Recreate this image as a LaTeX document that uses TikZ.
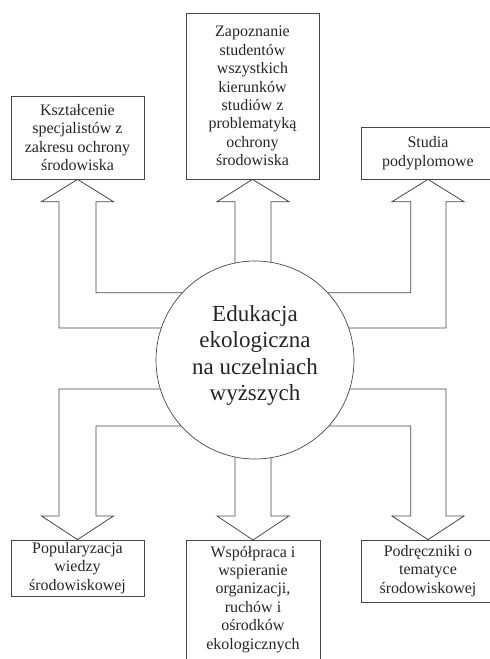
\documentclass[tikz,border=0pt]{standalone}
\usepackage{fontspec}
\setmainfont{Liberation Serif}
\begin{document}
\begin{tikzpicture}[x=1pt,y=-1pt,
  line/.style={draw=black!72, line width=0.8pt},
  box/.style={line, rectangle, fill=white, align=center, inner sep=0pt,
              font=\fontsize{16}{18.4}\selectfont, text=black!85},
  arr/.style={line, line join=miter},
  big/.style={align=center, inner sep=0pt, font=\fontsize{23}{26.5}\selectfont, text=black!85}]
\useasboundingbox (0,0) rectangle (490,659);
% boxes
\node[box, minimum width=133pt, minimum height=83pt] (b1) at (77.5,137.5)
  {Kształcenie\\specjalistów z\\zakresu ochrony\\środowiska};
\node[box, minimum width=133pt, minimum height=166pt] (b2) at (252.5,96)
  {Zapoznanie\\studentów\\wszystkich\\kierunków\\studiów z\\problematyką\\ochrony\\środowiska};
\node[box, minimum width=134pt, minimum height=52pt] (b3) at (428,153)
  {Studia\\podyplomowe};
\node[box, minimum width=133pt, minimum height=56pt] (b4) at (77.5,568)
  {Popularyzacja\\wiedzy\\środowiskowej};
\node[box, minimum width=134pt, inner ysep=5.5pt, text depth=12pt, anchor=north] (b5) at (253,540)
  {Współpraca i\\wspieranie\\organizacji,\\ruchów i\\ośrodków\\ekologicznych};
\node[box, minimum width=134pt, minimum height=62pt] (b6) at (428,571)
  {Podręczniki o\\tematyce\\środowiskowej};
% block arrows
\draw[arr] (255,292.7) -- (96,292.7) -- (96,201.7) -- (113.5,201.7) -- (b1.south)
  -- (41.5,201.7) -- (59,201.7) -- (59,328) -- (255,328);
\draw[arr] (235,360) -- (235,201.7) -- (217,201.7) -- (b2.south)
  -- (289,201.7) -- (271,201.7) -- (271,360);
\draw[arr] (255,292.7) -- (410.7,292.7) -- (410.7,201.7) -- (392,201.7) -- (b3.south)
  -- (464,201.7) -- (446,201.7) -- (446,328) -- (255,328);
\draw[arr] (255,389) -- (59,389) -- (59,516) -- (41.5,516) -- (b4.north)
  -- (113.5,516) -- (96,516) -- (96,426) -- (255,426);
\draw[arr] (235,360) -- (235,516) -- (217,516) -- (b5.north)
  -- (289,516) -- (271,516) -- (271,360);
\draw[arr] (255,389) -- (446,389) -- (446,516) -- (464,516) -- (b6.north)
  -- (392,516) -- (410.7,516) -- (410.7,426) -- (255,426);
% centre
\node[circle, draw=black!72, line width=0.7pt, fill=white, minimum size=198pt, inner sep=0pt] (c) at (255,360) {};
\node[big] (t) at (c.center) [yshift=4.5pt] {Edukacja\\ekologiczna\\na uczelniach\\wyższych};
\end{tikzpicture}
\end{document}
